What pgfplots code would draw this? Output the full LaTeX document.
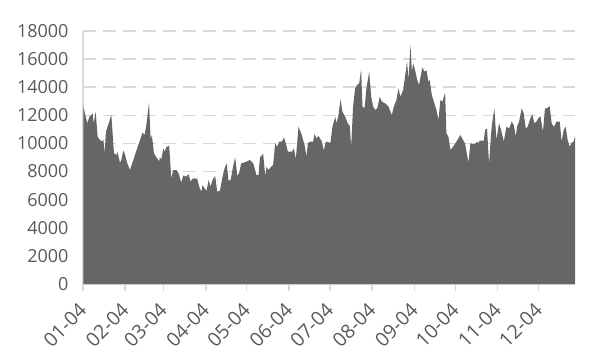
\documentclass[border=0pt]{standalone}
\usepackage{pgfplots}
\pgfplotsset{compat=1.18}
\usepackage{fontspec}
\setmainfont{Open Sans}
\definecolor{areagray}{HTML}{666666}
\definecolor{gridgray}{HTML}{D9D9D9}
\definecolor{txtgray}{HTML}{595959}
\begin{document}
\begin{tikzpicture}
\useasboundingbox (-83pt,-77pt) rectangle (526pt,284pt);
\begin{axis}[
  at={(0,0)}, anchor=south west,
  scale only axis, width=492pt, height=253pt,
  xmin=0, xmax=360.7, ymin=0, ymax=18000,
  ytick={0,2000,...,18000},
  scaled y ticks=false,
  xtick={0,31,59,90,120,151,181,212,243,273,304,334},
  xticklabels={01-04,02-04,03-04,04-04,05-04,06-04,07-04,08-04,09-04,10-04,11-04,12-04},
  axis x line*=bottom, axis y line*=left,
  axis line style={gridgray, line width=1.6pt, -},
  ymajorgrids,
  grid style={gridgray, line width=1.6pt, dash pattern=on 13pt off 7pt},
  tick align=outside,
  x tick style={gridgray, line width=1.6pt},
  xtick pos=bottom,
  major tick length=7pt,
  y tick style={draw=none},
  ytick pos=left,
  /pgf/number format/assume math mode=true,
  /pgf/number format/1000 sep={},
  /pgf/number format/fixed,
  tick label style={font=\fontsize{18}{21}\selectfont, text=txtgray},
  yticklabel style={xshift=-4pt},
  xticklabel style={xshift=0pt, yshift=-16pt, rotate=45, anchor=east, inner sep=0pt, font=\fontsize{19.5}{21}\selectfont},
]
\addplot[fill=areagray, draw=none] table {
x y
0.2 12660
1.7 12020
3.2 11430
4.6 11900
6.1 12020
7.1 12140
7.8 11430
9.3 12260
10.7 10480
12.5 10240
13.9 10130
14.9 10290
15.9 9300
16.8 10840
18.8 11430
20.8 12020
22.7 9300
24.7 9180
25.2 9410
27.1 8630
28.1 8820
29.5 9490
30.5 9300
32.5 8580
34.4 8110
36.9 8820
39.3 9530
41.8 10240
43.7 10770
45.2 10600
46.6 11430
48.4 12900
49.6 10290
50.5 10600
52.0 9300
53.5 9060
55.9 8730
56.4 9060
57.4 8820
58.9 9650
59.8 9410
61.3 9770
63.2 9820
64.7 7520
66.2 8110
68.6 8110
70.1 7870
72.0 7210
73.5 7710
75.9 7640
77.4 7830
78.9 7280
80.3 7490
81.8 7520
83.8 7470
85.2 6920
86.7 6570
87.7 7040
89.1 6810
90.6 6640
92.1 7400
93.5 6920
95.0 7400
96.9 7680
98.4 6570
100.4 6640
102.3 7640
103.8 8230
105.3 8580
106.7 7350
108.2 7400
110.1 8390
111.6 9010
113.1 7680
114.5 7920
116.0 8580
119.9 8700
122.3 8820
124.8 8580
127.2 7750
128.7 7750
129.7 9010
132.1 9250
133.6 7680
134.6 8350
136.0 8110
138.0 8350
139.4 8470
140.9 10010
142.4 9770
143.8 10130
145.8 10130
147.3 10430
148.7 10010
150.2 9410
153.1 9410
154.6 9650
156.0 8870
158.0 11190
160.4 10600
162.4 9890
163.9 9060
164.8 10010
166.3 10130
168.7 10130
169.7 10670
171.2 10360
172.7 10530
175.1 10130
176.6 9490
178.0 10130
181.4 10050
182.9 11190
184.9 11900
185.8 11430
187.3 12020
188.8 13140
190.2 12260
192.2 11900
194.1 11430
195.6 11240
196.6 9770
198.0 12620
199.5 13920
201.0 14160
202.5 14280
203.9 15270
204.9 12620
206.4 12500
207.8 13920
209.8 15100
211.3 13320
212.7 12620
214.2 12380
215.7 12500
217.6 13320
219.1 12970
221.5 12850
224.0 12620
224.9 12380
226.4 12020
227.9 12620
229.8 13090
231.3 13920
232.7 13320
234.7 13800
236.6 15100
237.6 15820
238.6 14510
240.1 17000
241.1 15100
242.0 15700
243.5 15220
245.0 14510
246.4 14160
247.4 14700
248.8 15410
250.3 15100
251.8 15220
253.2 14390
254.2 14510
255.7 13450
257.6 12850
259.1 12380
260.6 11670
262.0 13090
263.5 12970
265.5 13610
266.4 10720
267.9 10480
269.4 9530
271.3 9770
273.8 10130
276.7 10600
278.6 10240
280.1 10010
281.1 9410
282.6 8630
284.0 10010
286.0 9960
287.4 9960
288.9 10130
289.9 10010
290.8 10200
293.8 10200
294.8 10960
296.2 11070
297.7 8540
299.2 10720
300.1 11550
301.6 12500
303.1 10240
305.0 11430
306.5 10960
308.5 10130
310.4 11190
312.4 11070
314.3 11550
315.8 11310
317.3 10480
318.2 11190
319.7 11550
321.6 12500
323.1 12140
324.6 11070
326.0 11190
328.0 11790
329.4 12090
330.9 11430
332.4 11550
333.8 11790
335.3 11950
337.2 10840
338.7 12500
340.2 12500
342.1 12660
343.6 11430
345.1 11190
346.0 11310
347.0 11550
349.5 11550
350.9 10130
352.4 10960
353.9 11190
355.3 10240
356.8 9770
358.3 10050
359.7 10130
360.7 10530
} \closedcycle;
\end{axis}
\end{tikzpicture}
\end{document}
